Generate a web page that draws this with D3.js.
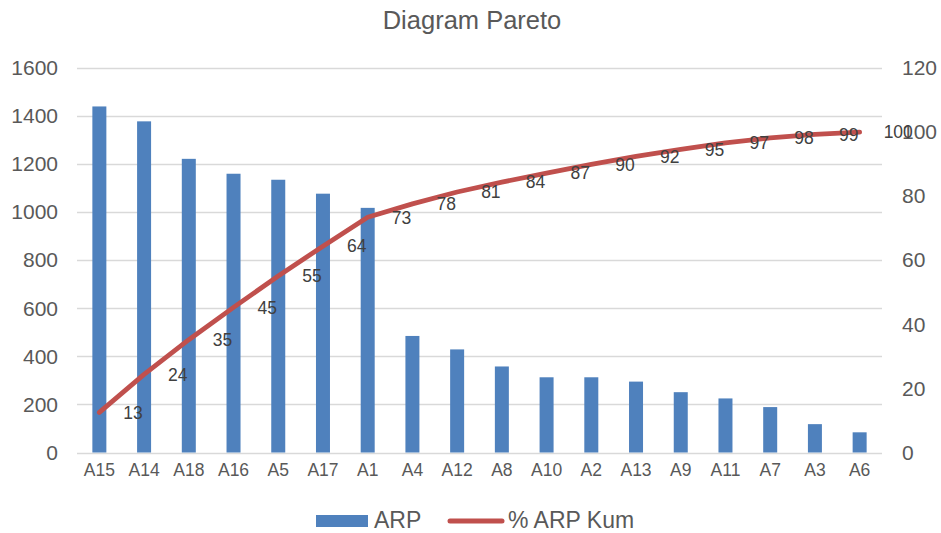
<!DOCTYPE html>
<html>
<head>
<meta charset="utf-8">
<script src="https://cdn.jsdelivr.net/npm/d3@7"></script>
<style>
  html, body { margin: 0; padding: 0; background: #fff; }
  svg { display: block; font-family: "Liberation Sans", Arial, sans-serif; }
</style>
</head>
<body>
<svg id="chart" width="941" height="533"></svg>
<script>
// ---- data ----
const categories = ["A15","A14","A18","A16","A5","A17","A1","A4","A12","A8","A10","A2","A13","A9","A11","A7","A3","A6"];
const arpValues  = [1440,1378,1222,1160,1135,1077,1018,485,429,358,313,313,295,251,225,189,118,84];
const cumPercent = [12.5,24.4,35.2,45.3,55.1,64.4,73.4,77.6,81.3,84.4,87.2,89.9,92.4,94.6,96.6,98.2,99.3,100];
const leftTicks  = [0,200,400,600,800,1000,1200,1400,1600];
const rightTicks = [0,20,40,60,80,100,120];
const title = "Diagram Pareto";
const seriesNames = ["ARP", "% ARP Kum"];

// ---- layout ----
const svg = d3.select("#chart");
const plot = { left: 77, right: 882, top: 68, bottom: 452.5 };
const barColor = "#4F81BD", lineColor = "#C0504D";
const gridColor = "#D9D9D9", textColor = "#595959", labelColor = "#404040";

const x = d3.scaleBand().domain(categories).range([plot.left, plot.right])
  .paddingInner(0.687).paddingOuter(0.687 / 2);
const yL = d3.scaleLinear().domain([0, 1600]).range([plot.bottom, plot.top]);
const yR = d3.scaleLinear().domain([0, 120]).range([plot.bottom, plot.top]);
const cx = d => x(d) + x.bandwidth() / 2;

// title
svg.append("text").attr("x", 472).attr("y", 28.5).attr("text-anchor", "middle")
  .attr("font-size", 25.5).attr("fill", textColor).text(title);

// gridlines
svg.append("g").selectAll("line").data(leftTicks).join("line")
  .attr("x1", plot.left).attr("x2", plot.right)
  .attr("y1", d => Math.round(yL(d)) + 0.5).attr("y2", d => Math.round(yL(d)) + 0.5)
  .attr("stroke", gridColor).attr("stroke-width", 1.3);

// left axis
const gl = svg.append("g").attr("transform", `translate(${plot.left - 19},0)`)
  .call(d3.axisLeft(yL).tickValues(leftTicks).tickSize(0).tickPadding(0).tickFormat(d3.format("d")));
gl.select(".domain").remove();
gl.selectAll("text").attr("font-size", 21).attr("fill", textColor)
  .attr("font-family", "Liberation Sans, Arial, sans-serif");

// right axis
const gr = svg.append("g").attr("transform", `translate(${plot.right + 20},0)`)
  .call(d3.axisRight(yR).tickValues(rightTicks).tickSize(0).tickPadding(0).tickFormat(d3.format("d")));
gr.select(".domain").remove();
gr.selectAll("text").attr("font-size", 21).attr("fill", textColor)
  .attr("font-family", "Liberation Sans, Arial, sans-serif");

// bottom axis
const gb = svg.append("g").attr("transform", `translate(0,${plot.bottom + 11})`)
  .call(d3.axisBottom(x).tickSize(0).tickPadding(0));
gb.select(".domain").remove();
gb.selectAll("text").attr("font-size", 17.5).attr("fill", textColor)
  .attr("font-family", "Liberation Sans, Arial, sans-serif").attr("dy", "0.71em");

// bars
svg.append("g").selectAll("rect").data(categories).join("rect")
  .attr("x", d => x(d)).attr("width", x.bandwidth())
  .attr("y", (d, i) => yL(arpValues[i]))
  .attr("height", (d, i) => plot.bottom - yL(arpValues[i]))
  .attr("fill", barColor);

// line
const line = d3.line().x((d, i) => cx(categories[i])).y(d => yR(d));
svg.append("path").datum(cumPercent).attr("d", line)
  .attr("fill", "none").attr("stroke", lineColor).attr("stroke-width", 4.8)
  .attr("stroke-linejoin", "round").attr("stroke-linecap", "round");

// data labels
svg.append("g").selectAll("text").data(cumPercent).join("text")
  .attr("x", (d, i) => cx(categories[i]) + 24)
  .attr("y", d => yR(d)).attr("dy", "0.36em")
  .attr("font-size", 17.5).attr("fill", labelColor)
  .text(d => Math.round(d));

// legend
const lg = svg.append("g");
lg.append("rect").attr("x", 316).attr("y", 515).attr("width", 52).attr("height", 12).attr("fill", barColor);
lg.append("text").attr("x", 374).attr("y", 527.5).attr("font-size", 23).attr("fill", textColor).text(seriesNames[0]);
lg.append("line").attr("x1", 450).attr("x2", 502).attr("y1", 521).attr("y2", 521)
  .attr("stroke", lineColor).attr("stroke-width", 5).attr("stroke-linecap", "round");
lg.append("text").attr("x", 508).attr("y", 527.5).attr("font-size", 23).attr("fill", textColor).text(seriesNames[1]);
</script>
</body>
</html>
